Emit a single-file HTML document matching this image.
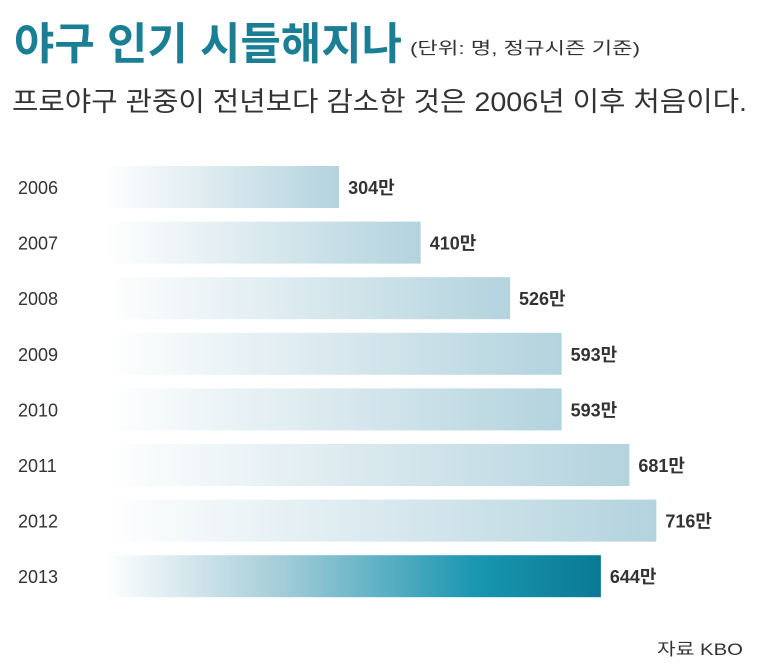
<!DOCTYPE html>
<html><head><meta charset="utf-8"><style>
body{margin:0;background:#fff;}
svg{display:block;font-family:"Liberation Sans","Noto Sans CJK KR",sans-serif;}
</style></head><body>
<svg id="chart" width="767" height="667" viewBox="0 0 767 667" xmlns="http://www.w3.org/2000/svg">
<defs>
<linearGradient id="gLight" x1="0" x2="1" y1="0" y2="0"><stop offset="0" stop-color="#ffffff"/><stop offset="1" stop-color="#b3d3de"/></linearGradient>
<linearGradient id="gDark" x1="0" x2="1" y1="0" y2="0"><stop offset="0" stop-color="#ffffff"/><stop offset="0.35" stop-color="#a6cdd9"/><stop offset="0.75" stop-color="#1996b0"/><stop offset="1" stop-color="#0a7a93"/></linearGradient>
</defs>
<text x="14" y="59" font-size="44" font-weight="bold" fill="#1a7f95" textLength="388" lengthAdjust="spacingAndGlyphs">야구 인기 시들해지나</text>
<text x="410" y="54" font-size="17" fill="#333" textLength="230" lengthAdjust="spacingAndGlyphs">(단위: 명, 정규시즌 기준)</text>
<text x="12" y="111" font-size="27" fill="#333" textLength="735" lengthAdjust="spacingAndGlyphs">프로야구 관중이 전년보다 감소한 것은 2006년 이후 처음이다.</text>
<g id="bars"></g>
<text x="657" y="655" font-size="17" fill="#333" textLength="86" lengthAdjust="spacingAndGlyphs">자료 KBO</text>
</svg>
<script>
const years = ["2006","2007","2008","2009","2010","2011","2012","2013"];
const values = [304,410,526,593,593,681,716,644];
const labels = ["304만","410만","526만","593만","593만","681만","716만","644만"];
const x0 = 105, pxPerUnit = 0.77;
function xs(v){return x0 + pxPerUnit * v;}
function yc(i){return 187 + i * 55.6;}
const g = document.getElementById('bars');
const NS = "http://www.w3.org/2000/svg";
years.forEach((yr, i) => {
  const r = document.createElementNS(NS, 'rect');
  
  
  r.setAttribute('x', x0);
  r.setAttribute('y', yc(i) - 21);
  r.setAttribute('width', xs(values[i]) - x0);
  r.setAttribute('height', 42);
  r.setAttribute('fill', i === years.length - 1 ? 'url(#gDark)' : 'url(#gLight)');
  g.appendChild(r);
  const t = document.createElementNS(NS, 'text');
  
  
  t.setAttribute('x', 18);
  t.setAttribute('y', yc(i) + 7);
  t.setAttribute('font-size', '18');
  t.setAttribute('fill', '#333');
  t.textContent = yr;
  g.appendChild(t);
  const v = document.createElementNS(NS, 'text');
  
  
  v.setAttribute('x', xs(values[i]) + 9);
  v.setAttribute('y', yc(i) + 7);
  v.setAttribute('font-size', '18');
  v.setAttribute('font-weight', 'bold');
  v.setAttribute('fill', '#333');
  v.textContent = labels[i];
  g.appendChild(v);
});
</script>
</body></html>
